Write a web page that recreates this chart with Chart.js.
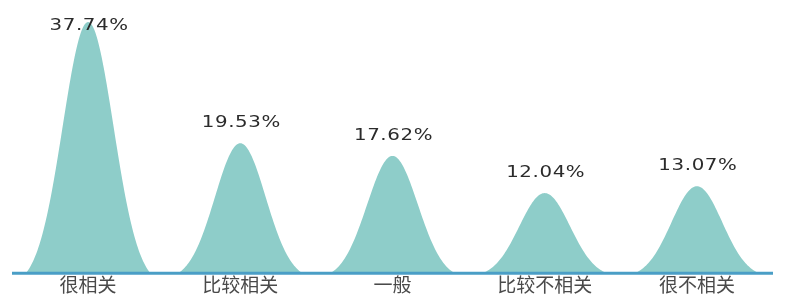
<!DOCTYPE html>
<html>
<head>
<meta charset="utf-8">
<script src="https://cdn.jsdelivr.net/npm/chart.js@4"></script>
<style>
  html, body { margin: 0; padding: 0; background: #fff; }
  #wrap { width: 786px; height: 307px; }
</style>
</head>
<body>
<div id="wrap"><canvas id="myChart" width="786" height="307"></canvas></div>
<script>
var categories = ['很相关', '比较相关', '一般', '比较不相关', '很不相关'];
var values = [37.74, 19.53, 17.62, 12.04, 13.07];
var valueLabels = ['37.74%', '19.53%', '17.62%', '12.04%', '13.07%'];

var fillColor = '#8ecdc9';
var axisColor = '#4a9ec6';

// kresli "zvony" misto obdelniku
var bellPlugin = {
    id: 'bells',
    beforeDatasetsDraw: function (chart) {
        var ctx = chart.ctx;
        var meta = chart.getDatasetMeta(0);
        ctx.save();
        ctx.fillStyle = fillColor;
        meta.data.forEach(function (bar) {
            var p = bar.getProps(['x', 'y', 'base', 'width'], true);
            var s = p.width / 6;
            var k = 2.45; // kde konci ocas
            var h = p.base - p.y;
            var e0 = Math.exp(-k * k / 2);
            ctx.beginPath();
            ctx.moveTo(p.x - k * s, p.base);
            for (var i = 0; i <= 120; i++) {
                var t = -k * s + (2 * k * s) * i / 120;
                var f = (Math.exp(-t * t / (2 * s * s)) - e0) / (1 - e0);
                ctx.lineTo(p.x + t, p.base - h * f);
            }
            ctx.closePath();
            ctx.fill();
        });
        ctx.restore();
    },
    afterDatasetsDraw: function (chart) {
        var ctx = chart.ctx;
        var meta = chart.getDatasetMeta(0);
        var xs = chart.scales.x;
        var y0 = chart.scales.y.getPixelForValue(0);
        ctx.save();
        // osa
        ctx.strokeStyle = axisColor;
        ctx.lineWidth = 3;
        ctx.beginPath();
        ctx.moveTo(xs.left, y0);
        ctx.lineTo(xs.right, y0);
        ctx.stroke();
        // popisky hodnot (trochu roztazene do sirky)
        ctx.font = '16.5px "DejaVu Sans"';
        ctx.letterSpacing = '0.5px';
        ctx.fillStyle = '#2b2b2b';
        ctx.textAlign = 'center';
        ctx.textBaseline = 'alphabetic';
        meta.data.forEach(function (bar, i) {
            var yy = Math.max(bar.y - 16, 30);
            ctx.save();
            ctx.translate(bar.x + 1, yy);
            ctx.scale(1.2, 1);
            ctx.fillText(valueLabels[i], 0, 0);
            ctx.restore();
        });
        ctx.restore();
    }
};

var ctx = document.getElementById('myChart').getContext('2d');
var myChart = new Chart(ctx, {
    type: 'bar',
    data: {
        labels: categories,
        datasets: [{
            data: values,
            backgroundColor: 'rgba(0,0,0,0)',
            barPercentage: 1,
            categoryPercentage: 1
        }]
    },
    options: {
        responsive: false,
        animation: false,
        layout: { padding: { top: 7, left: 12, right: 13, bottom: 11 } },
        plugins: {
            legend: { display: false },
            tooltip: { enabled: false }
        },
        scales: {
            x: {
                grid: { display: false, drawTicks: false },
                border: { display: false },
                ticks: {
                    padding: 0,
                    color: '#4a4a4a',
                    font: { family: '"Noto Sans CJK SC"', size: 19 }
                }
            },
            y: {
                display: false,
                beginAtZero: true,
                max: 40
            }
        }
    },
    plugins: [bellPlugin]
});
</script>
</body>
</html>
